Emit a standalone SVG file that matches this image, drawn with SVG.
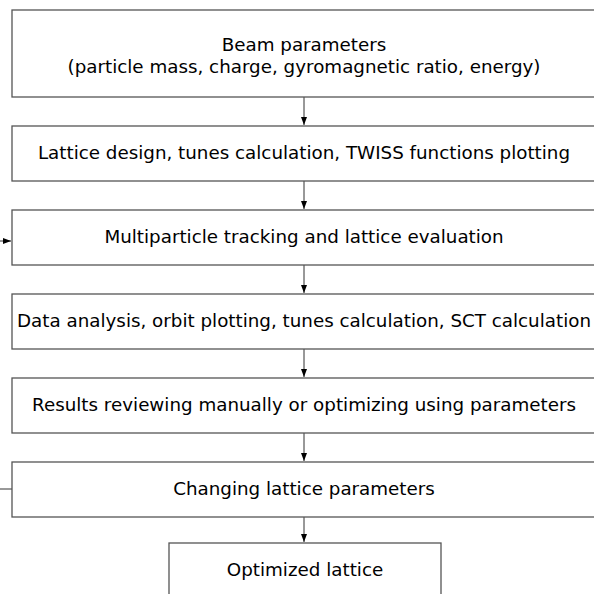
<svg xmlns="http://www.w3.org/2000/svg" width="594" height="594" viewBox="0 0 594 594">
<style>
.box{fill:#fff;stroke:#555;stroke-width:1.3}
.t{font-family:"DejaVu Sans",sans-serif;font-size:18.3px;fill:#000;text-anchor:middle}
.c{stroke:#333;stroke-width:1;fill:none}
</style>
<defs>
<marker id="ah" markerWidth="8" markerHeight="8" refX="8" refY="3" orient="auto" markerUnits="userSpaceOnUse">
<path d="M0,0 L8,3 L0,6 z" fill="#000"/>
</marker>
</defs>
<rect width="594" height="594" fill="#fff"/>
<g id="connectors">
<line class="c" x1="304" y1="97" x2="304" y2="125" marker-end="url(#ah)"/>
<line class="c" x1="304" y1="181" x2="304" y2="209" marker-end="url(#ah)"/>
<line class="c" x1="304" y1="265" x2="304" y2="293" marker-end="url(#ah)"/>
<line class="c" x1="304" y1="349" x2="304" y2="377" marker-end="url(#ah)"/>
<line class="c" x1="304" y1="433" x2="304" y2="461" marker-end="url(#ah)"/>
<line class="c" x1="304" y1="517" x2="304" y2="542" marker-end="url(#ah)"/>
<line class="c" x1="0" y1="241" x2="11" y2="241" marker-end="url(#ah)"/>
<line class="c" x1="0" y1="489" x2="12" y2="489"/>
</g>
<g id="n1"><rect class="box" x="12" y="10" width="584" height="87"/>
<text class="t" x="304" y="51">Beam parameters</text>
<text class="t" x="304" y="73">(particle mass, charge, gyromagnetic ratio, energy)</text></g>
<g id="n2"><rect class="box" x="12" y="126" width="584" height="55"/>
<text class="t" x="304" y="159">Lattice design, tunes calculation, TWISS functions plotting</text></g>
<g id="n3"><rect class="box" x="12" y="210" width="584" height="55"/>
<text class="t" x="304" y="243">Multiparticle tracking and lattice evaluation</text></g>
<g id="n4"><rect class="box" x="12" y="294" width="584" height="55"/>
<text class="t" x="304" y="327">Data analysis, orbit plotting, tunes calculation, SCT calculation</text></g>
<g id="n5"><rect class="box" x="12" y="378" width="584" height="55"/>
<text class="t" x="304" y="411">Results reviewing manually or optimizing using parameters</text></g>
<g id="n6"><rect class="box" x="12" y="462" width="584" height="55"/>
<text class="t" x="304" y="495">Changing lattice parameters</text></g>
<g id="n7"><rect class="box" x="169" y="543" width="272" height="60"/>
<text class="t" x="305" y="576">Optimized lattice</text></g>
</svg>
